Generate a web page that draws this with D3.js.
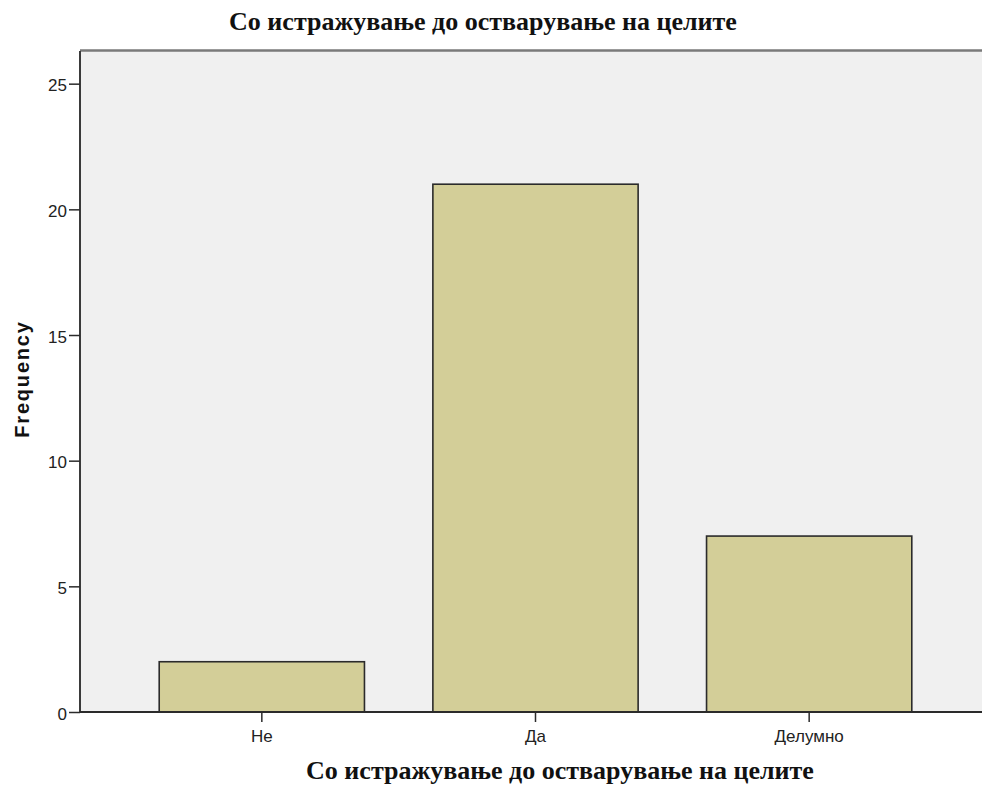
<!DOCTYPE html>
<html>
<head>
<meta charset="utf-8">
<script src="https://cdn.jsdelivr.net/npm/d3@7"></script>
<style>
  html, body { margin: 0; padding: 0; background: #ffffff; }
  svg { display: block; }
</style>
</head>
<body>
<svg id="chart" width="982" height="787"></svg>
<script>
// Answers and their counts
const categories = ["Не", "Да", "Делумно"];
const frequencies = [2, 21, 7];
const yTicks = [0, 5, 10, 15, 20, 25];
const chartTitle = "Со истражување до остварување на целите";
const xTitle = "Со истражување до остварување на целите";
const yTitle = "Frequency";

const svg = d3.select("#chart");

const plot = { left: 80, right: 982, top: 51, bottom: 712 };

const y = d3.scaleLinear()
  .domain([0, 26.3])
  .range([plot.bottom, plot.top]);

const x = d3.scaleBand()
  .domain(categories)
  .range([125, 946])
  .paddingInner(0.25)
  .paddingOuter(0.125);

const sans = "Arial, 'Liberation Sans', sans-serif";
const serif = "'Liberation Serif', 'Times New Roman', serif";

// plot background
svg.append("rect")
  .attr("x", plot.left)
  .attr("y", plot.top)
  .attr("width", plot.right - plot.left)
  .attr("height", plot.bottom - plot.top)
  .attr("fill", "#f0f0f0");

// top frame line
svg.append("line")
  .attr("x1", plot.left).attr("x2", plot.right)
  .attr("y1", plot.top - 0.5).attr("y2", plot.top - 0.5)
  .attr("stroke", "#7a7a7a")
  .attr("stroke-width", 2.5);

// bars
svg.append("g")
  .selectAll("rect")
  .data(categories.map((c, i) => ({ c, v: frequencies[i] })))
  .join("rect")
  .attr("x", d => x(d.c))
  .attr("y", d => y(d.v))
  .attr("width", x.bandwidth())
  .attr("height", d => y(0) - y(d.v))
  .attr("fill", "#d3ce98")
  .attr("stroke", "#2b2b2b")
  .attr("stroke-width", 1.6);

// y axis
const yAxis = svg.append("g")
  .attr("transform", `translate(${plot.left},0)`)
  .call(d3.axisLeft(y).tickValues(yTicks).tickSize(11).tickPadding(2).tickFormat(d3.format("d")));
yAxis.select(".domain")
  .attr("d", `M0,${plot.top}V${plot.bottom}`)
  .attr("stroke", "#3a3a3a")
  .attr("stroke-width", 2);
yAxis.selectAll(".tick line").attr("stroke", "#2b2b2b").attr("stroke-width", 1.5);
yAxis.selectAll(".tick text")
  .attr("font-family", sans)
  .attr("font-size", 17)
  .attr("dy", "0.42em")
  .attr("fill", "#222");

// x axis
const xAxis = svg.append("g")
  .attr("transform", `translate(0,${plot.bottom})`)
  .call(d3.axisBottom(x).tickSize(10).tickPadding(8));
xAxis.select(".domain")
  .attr("d", `M${plot.left},0H${plot.right}`)
  .attr("stroke", "#2b2b2b")
  .attr("stroke-width", 2);
xAxis.selectAll(".tick line").attr("stroke", "#2b2b2b").attr("stroke-width", 1.5);
xAxis.selectAll(".tick text")
  .attr("font-family", sans)
  .attr("font-size", 17)
  .attr("fill", "#222");

// titles
svg.append("text")
  .attr("x", 483).attr("y", 30)
  .attr("text-anchor", "middle")
  .attr("font-family", serif)
  .attr("font-weight", "bold")
  .attr("font-size", 26)
  .attr("fill", "#111")
  .text(chartTitle);

svg.append("text")
  .attr("x", 560).attr("y", 779)
  .attr("text-anchor", "middle")
  .attr("font-family", serif)
  .attr("font-weight", "bold")
  .attr("font-size", 26)
  .attr("fill", "#111")
  .text(xTitle);

svg.append("text")
  .attr("transform", "translate(29,379) rotate(-90)")
  .attr("text-anchor", "middle")
  .attr("font-family", sans)
  .attr("font-weight", "bold")
  .attr("font-size", 20)
  .attr("letter-spacing", 1.8)
  .attr("fill", "#111")
  .text(yTitle);
</script>
</body>
</html>
